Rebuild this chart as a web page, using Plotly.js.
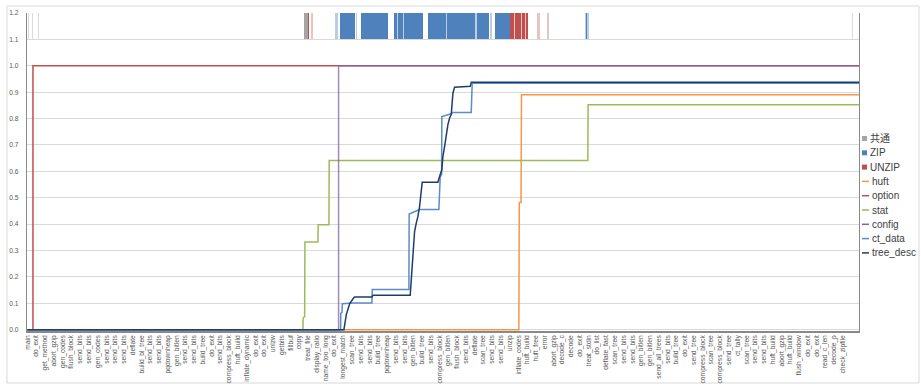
<!DOCTYPE html>
<html><head><meta charset="utf-8">
<script src="https://cdn.plot.ly/plotly-3.0.1.min.js"></script>
<style>html,body{margin:0;padding:0;background:#fff;}#chart{width:921px;height:387px;}</style>
</head><body><div id="chart"></div>
<script>
// ---- x tick labels (one every label step) ----
const tickLabels = ['main','do_exit','get_method','abort_gzip','gen_codes','flush_block','send_bits','send_bits','gen_codes','send_bits','send_bits','send_bits','deflate','build_bl_tree','send_bits','send_bits','pqdownheap','gen_bitlen','send_bits','send_bits','build_tree','do_exit','send_bits','compress_block','huft_build','inflate_dynamic','do_exit','do_exit','unlzw','getbits','fillbuf','copy','treat_file','display_ratio','name_too_long','do_exit','longest_match','scan_tree','send_bits','send_bits','build_tree','pqdownheap','send_bits','send_bits','gen_bitlen','build_tree','send_bits','compress_block','gen_bitlen','flush_block','send_bits','deflate','scan_tree','send_bits','send_bits','unzip','inflate_codes','huft_build','huft_free','error','abort_gzip','decode_c','decode','do_exit','treat_stdin','do_list','deflate_fast','scan_tree','send_bits','send_bits','gen_bitlen','gen_bitlen','send_all_trees','send_bits','build_tree','do_exit','send_tree','compress_block','scan_tree','compress_block','send_tree','ct_tally','scan_tree','send_bits','send_bits','huft_build','abort_gzip','huft_build','flush_window','do_exit','do_exit','read_c_len','decode_p','check_zipfile'];

// ---- band (1.1 - 1.2) spans, in label-index units ----
// solid runs
const commonStart = [31.55];
const commonEnd   = [31.96];
const zipStart = [35.61, 38.08, 38.66, 39.66, 40.11, 41.76, 42.26, 42.91, 43.31, 45.74, 46.30, 47.44, 47.83, 49.92, 51.30, 53.36, 63.74];
const zipEnd   = [37.32, 38.60, 39.60, 40.05, 41.11, 42.20, 42.85, 43.25, 45.07, 46.24, 47.38, 47.77, 49.86, 51.10, 52.63, 54.99, 63.80];
const unzipStart = [32.01, 55.07, 55.60, 56.00, 56.42, 56.82, 58.30, 59.36];
const unzipEnd   = [32.10, 55.55, 55.95, 56.35, 56.75, 57.07, 58.34, 59.40];
// sparse (faint) marks
const commonFaintStart = [0.06, 0.50, 0.72, 0.92, 1.15, 31.38, 33.10, 34.35, 62.86, 94.10];
const commonFaintEnd   = [0.14, 0.58, 0.78, 0.98, 1.33, 31.47, 33.16, 34.41, 62.92, 94.16];
const zipFaintStart = [35.08, 37.50, 38.55, 39.55, 40.00, 42.15, 42.80, 43.20, 46.19, 47.33, 47.72, 49.81, 51.05, 52.78, 63.55];
const zipFaintEnd   = [35.40, 37.60, 38.71, 39.71, 40.16, 42.31, 42.96, 43.36, 46.35, 47.49, 47.88, 49.97, 51.35, 53.02, 64.00];
const unzipFaintStart = [32.40, 55.50, 55.90, 56.30, 56.70, 58.15, 59.25];
const unzipFaintEnd   = [32.52, 55.65, 56.05, 56.47, 56.87, 58.48, 59.52];
const bandBase = 1.1, bandTop = 1.2;

// ---- cumulative line series ----
const huftX = [0, 56.05, 56.10, 56.30, 56.35, 94.85];
const huftY = [0, 0, 0.482, 0.482, 0.89, 0.89];
const optionX = [0, 0.63, 0.63, 94.85];
const optionY = [0, 0, 1.0, 1.0];
const statX = [0, 31.42, 31.45, 31.62, 31.65, 33.13, 33.16, 34.39, 34.42, 63.92, 63.95, 94.85];
const statY = [0, 0, 0.044, 0.05, 0.332, 0.332, 0.398, 0.398, 0.641, 0.641, 0.852, 0.852];
const configX = [0, 35.49, 35.49, 94.85];
const configY = [0, 0, 1.0, 1.0];
const ctDataX = [0, 35.72, 35.74, 35.88, 35.91, 37.13, 39.29, 39.33, 43.51, 43.54, 44.73, 46.93, 47.08, 47.24, 47.27, 48.34, 48.53, 50.62, 50.73, 94.85];
const ctDataY = [0, 0, 0.063, 0.066, 0.098, 0.101, 0.101, 0.152, 0.152, 0.438, 0.455, 0.455, 0.578, 0.588, 0.808, 0.818, 0.823, 0.823, 0.934, 0.934];
const treeDescX = [0, 36.10, 36.37, 36.56, 36.75, 37.20, 37.32, 39.29, 39.41, 43.66, 43.89, 44.04, 44.16, 44.35, 44.54, 44.73, 44.92, 45.03, 46.82, 46.93, 47.08, 47.27, 47.39, 47.58, 47.77, 47.96, 48.15, 48.34, 48.53, 48.72, 50.51, 50.62, 94.85];
const treeDescY = [0, 0, 0.057, 0.076, 0.098, 0.120, 0.124, 0.124, 0.130, 0.130, 0.240, 0.316, 0.372, 0.404, 0.429, 0.467, 0.543, 0.559, 0.559, 0.576, 0.588, 0.606, 0.657, 0.694, 0.745, 0.777, 0.802, 0.815, 0.896, 0.919, 0.922, 0.938, 0.938];

const legendNames = ['共通','ZIP','UNZIP','huft','option','stat','config','ct_data','tree_desc'];
const legendKinds = ['bar','bar','bar','line','line','line','line','line','line'];

// ---- styling ----
const colors = {
  '共通':'#A5A5A5', 'ZIP':'#4F81BD', 'UNZIP':'#C0504D',
  'huft':'#F79646', 'option':'#C0504D', 'stat':'#9BBB59', 'config':'#8064A2',
  'ct_data':'#5B8CCB', 'tree_desc':'#1F3D6B'
};
const W = 921, H = 387, ML = 27, MR = 62, MT = 13, MB = 56;
const PW = W - ML - MR, PH = H - MT - MB;
const px2x = p => (p - ML) / PW;
const px2y = p => (H - MB - p) / PH;

function band(name, s, e, op) {
  return {
    type: 'bar', name: name,
    x: s.map((v, i) => (v + e[i]) / 2),
    width: s.map((v, i) => e[i] - v),
    y: s.map(() => bandTop - bandBase),
    base: s.map(() => bandBase),
    marker: {color: colors[name], opacity: op || 1, line: {width: 0}},
    showlegend: false, hoverinfo: 'skip'
  };
}
function line(name, x, y, w, op) {
  return {type: 'scatter', mode: 'lines', name: name, x: x, y: y,
    line: {color: colors[name], width: w || 1.5}, opacity: op || 1,
    showlegend: false, hoverinfo: 'skip'};
}

const data = [
  band('共通', commonFaintStart, commonFaintEnd, 0.4),
  band('ZIP', zipFaintStart, zipFaintEnd, 0.4),
  band('UNZIP', unzipFaintStart, unzipFaintEnd, 0.35),
  band('共通', commonStart, commonEnd),
  band('ZIP', zipStart, zipEnd),
  band('UNZIP', unzipStart, unzipEnd),
  line('huft', huftX, huftY),
  line('option', optionX, optionY),
  line('stat', statX, statY),
  line('config', configX, configY, 1.5, 0.75),
  line('ct_data', ctDataX, ctDataY),
  line('tree_desc', treeDescX, treeDescY)
];

// custom legend
const shapes = [];
const annotations = [];
const legY0 = 138.5, legStep = 14.3;
legendNames.forEach((n, i) => {
  const yc = legY0 + i * legStep;
  if (legendKinds[i] === 'bar') {
    shapes.push({type: 'rect', xref: 'paper', yref: 'paper', x0: px2x(862), x1: px2x(867), y0: px2y(yc + 2.5), y1: px2y(yc - 2.5),
      fillcolor: colors[n], line: {width: 0}});
  } else {
    shapes.push({type: 'line', xref: 'paper', yref: 'paper', x0: px2x(862), x1: px2x(869), y0: px2y(yc), y1: px2y(yc),
      line: {color: colors[n], width: 1.5}});
  }
  annotations.push({xref: 'paper', yref: 'paper', x: px2x(legendKinds[i] === 'bar' ? 867.5 : 869.5), y: px2y(yc),
    xanchor: 'left', yanchor: 'middle', showarrow: false, text: n,
    font: {size: 10, color: '#404040', family: 'Liberation Sans, Arial, Noto Sans CJK JP, sans-serif'}});
});
// chart frame
shapes.push({type: 'rect', xref: 'paper', yref: 'paper', x0: px2x(7), x1: px2x(919), y0: px2y(383), y1: px2y(6),
  line: {color: '#D9D9D9', width: 1}, fillcolor: 'rgba(0,0,0,0)', layer: 'below'});

const layout = {
  width: W, height: H,
  margin: {l: ML, r: MR, t: MT, b: MB, pad: 0},
  paper_bgcolor: '#fff', plot_bgcolor: '#fff',
  barmode: 'overlay', bargap: 0,
  showlegend: false,
  font: {family: 'Liberation Sans, Arial, sans-serif', color: '#595959'},
  xaxis: {
    type: 'linear', range: [-0.05, 94.85],
    tickmode: 'array', tickvals: tickLabels.map((_, i) => i), ticktext: tickLabels,
    tickangle: -90, tickfont: {size: 6.7, color: '#595959'},
    showgrid: false, zeroline: false,
    showline: true, linecolor: '#898989', linewidth: 1.5,
    ticks: '', layer: 'below traces', fixedrange: true
  },
  yaxis: {
    range: [-0.005, 1.2], tickmode: 'array',
    tickvals: [0,0.1,0.2,0.3,0.4,0.5,0.6,0.7,0.8,0.9,1.0,1.1,1.2],
    tickformat: '.1f', tickfont: {size: 6.7, color: '#595959'},
    showgrid: true, gridcolor: '#D9D9D9', gridwidth: 1,
    zeroline: false, showline: true, linecolor: '#898989', linewidth: 1.2, mirror: true,
    ticks: '', ticklabelstandoff: 6, layer: 'below traces', fixedrange: true
  },
  shapes: shapes, annotations: annotations
};

Plotly.newPlot('chart', data, layout, {staticPlot: true, displayModeBar: false});
</script></body></html>
